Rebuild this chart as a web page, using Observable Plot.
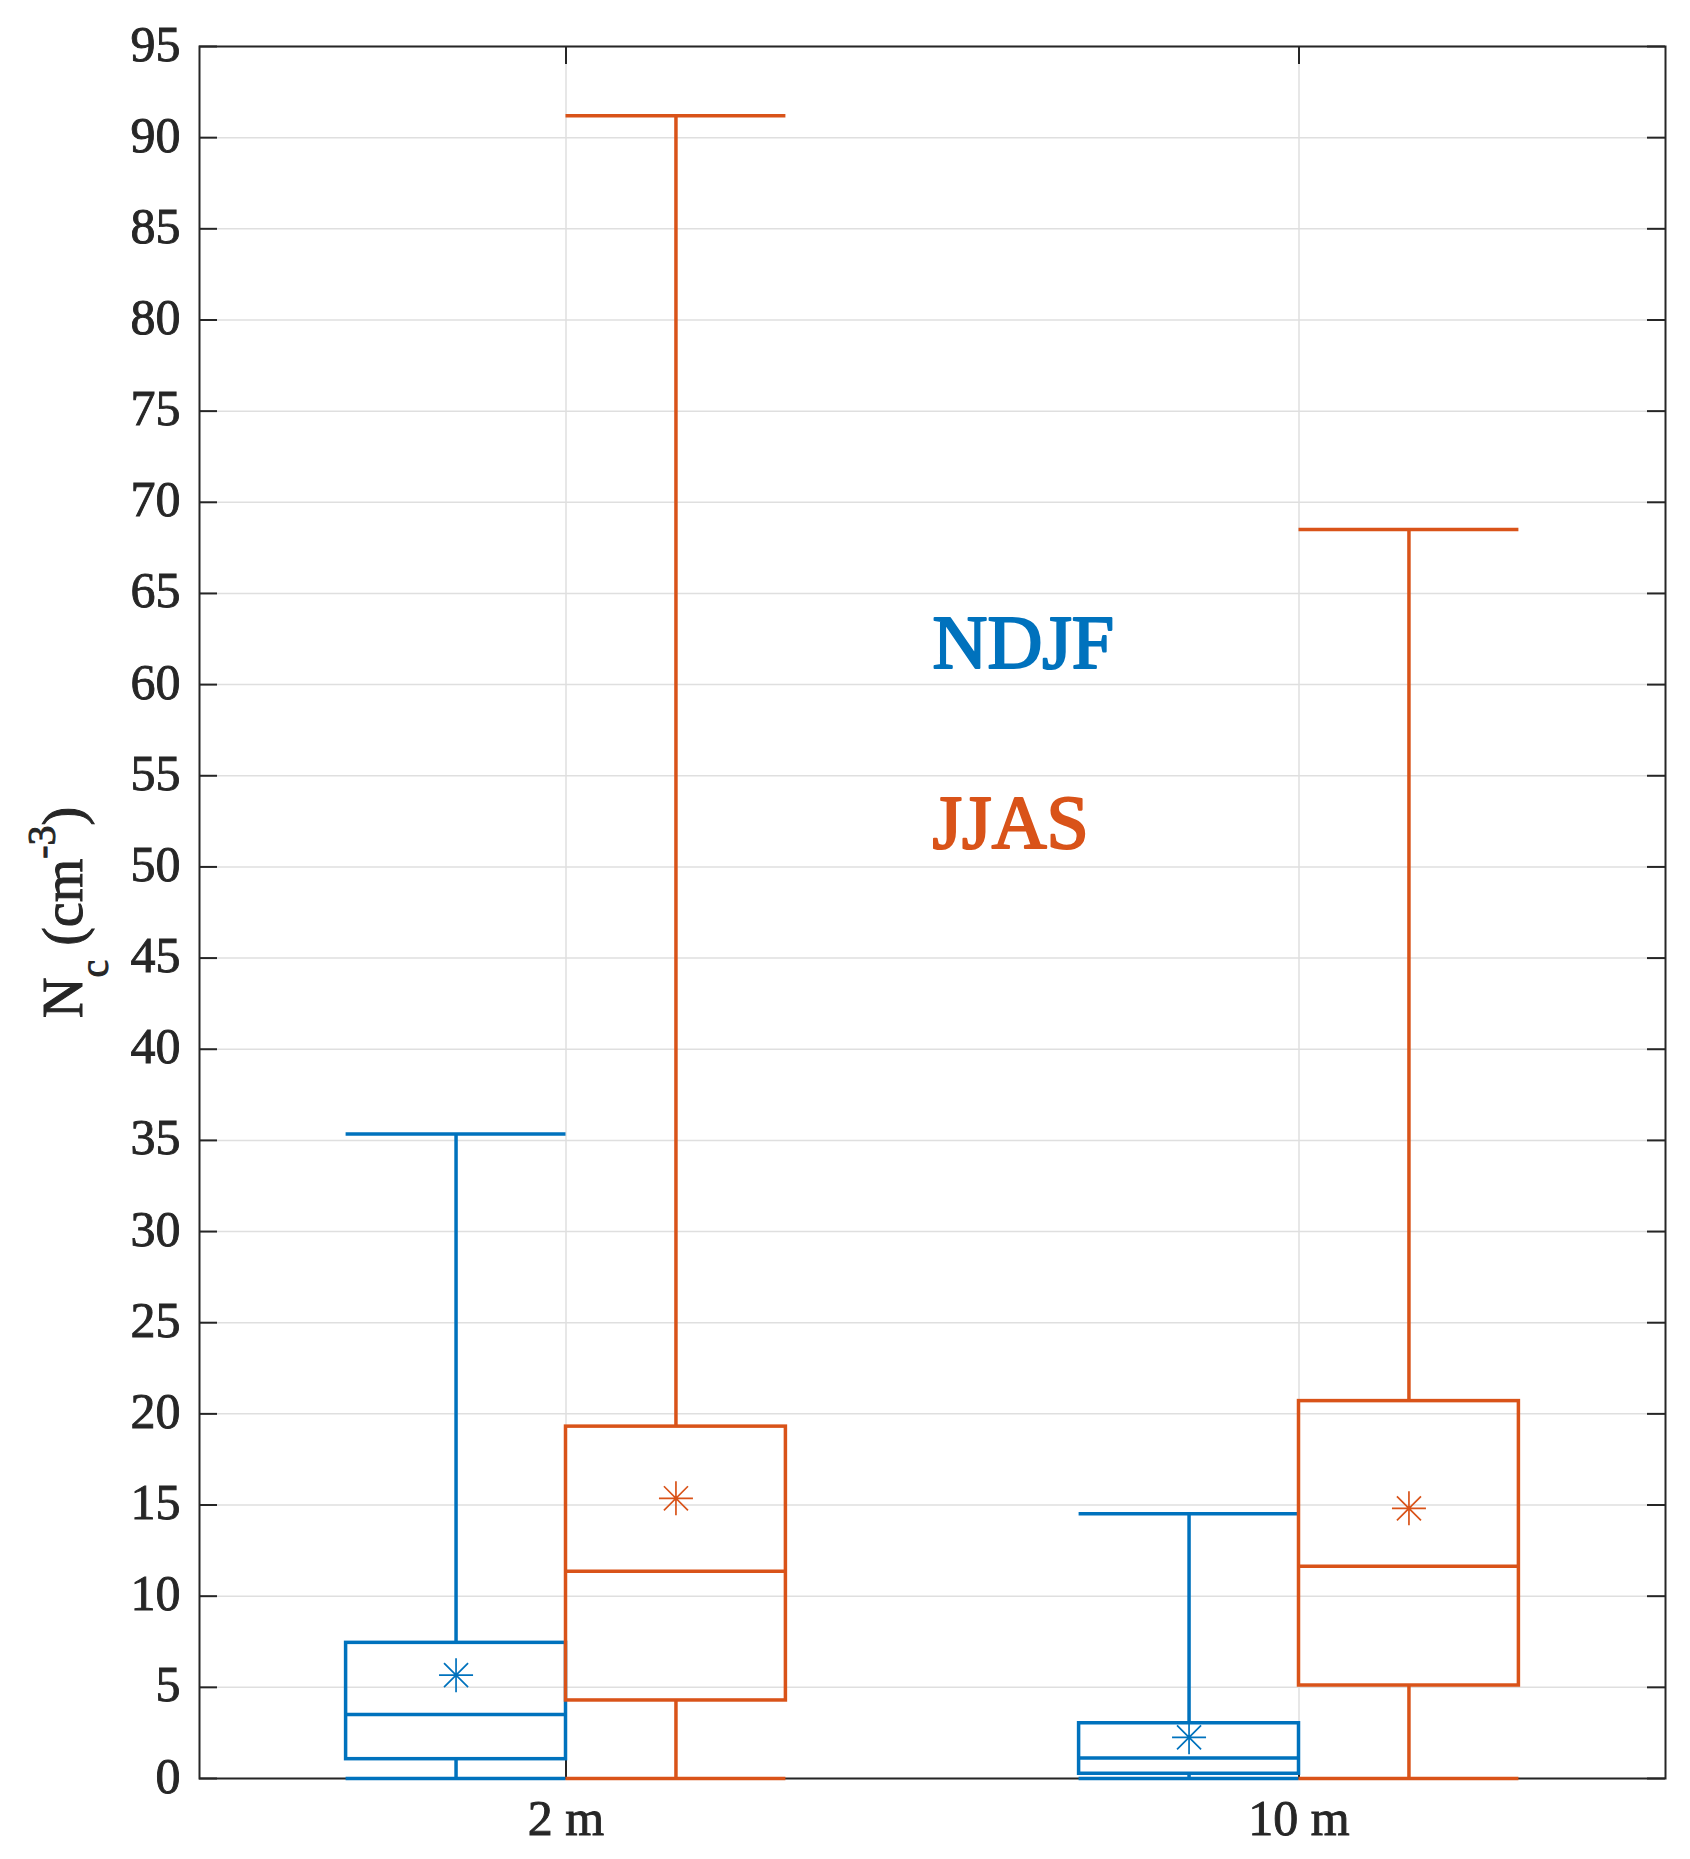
<!DOCTYPE html>
<html>
<head>
<meta charset="utf-8">
<script src="https://cdn.jsdelivr.net/npm/d3@7"></script>
<script src="https://cdn.jsdelivr.net/npm/@observablehq/plot@0.6"></script>
<style>
  html, body { margin: 0; padding: 0; background: #fff; }
  #chart svg { display: block; }
</style>
</head>
<body>
<div id="chart"></div>
<script>
// ---- data ----
const heights = ["2 m", "10 m"];
const positions = [1, 2];
const seasons = ["NDJF", "JJAS"];
const seasonColors = ["#0072BD", "#D95319"];

const ndjfLower  = [0, 0];
const ndjfQ1     = [1.06, 0.26];
const ndjfMedian = [3.51, 1.13];
const ndjfQ3     = [7.44, 3.03];
const ndjfUpper  = [35.35, 14.52];
const ndjfMean   = [5.67, 2.26];

const jjasLower  = [0, 0];
const jjasQ1     = [4.28, 5.1];
const jjasMedian = [11.37, 11.64];
const jjasQ3     = [19.30, 20.7];
const jjasUpper  = [91.2, 68.51];
const jjasMean   = [15.37, 14.82];

const yTicks = d3.range(0, 96, 5);
const legendY = [60.93, 51.06];
const legendX = 1.5;

// ---- build table ----
const boxW = 0.3;
const rows = [];
positions.forEach((p, i) => {
  rows.push({season: seasons[0], color: seasonColors[0], x1: p - boxW, x2: p, xc: p - boxW / 2,
    lower: ndjfLower[i], q1: ndjfQ1[i], median: ndjfMedian[i], q3: ndjfQ3[i], upper: ndjfUpper[i], mean: ndjfMean[i]});
  rows.push({season: seasons[1], color: seasonColors[1], x1: p, x2: p + boxW, xc: p + boxW / 2,
    lower: jjasLower[i], q1: jjasQ1[i], median: jjasMedian[i], q3: jjasQ3[i], upper: jjasUpper[i], mean: jjasMean[i]});
});

const W = 1690, H = 1859;
const mL = 199, mR = 25, mT = 46, mB = 81;
const innerW = W - mL - mR, innerH = H - mT - mB;
const tickLen = 18;
const axisColor = "#262626";
const gridColor = "#dfdfdf";
const lw = 3.5;
const serif = "'Liberation Serif', 'Times New Roman', serif";

const asterisk8 = {
  draw(ctx, size) {
    const r = Math.sqrt(size / Math.PI);
    const d = r * Math.SQRT1_2;
    ctx.moveTo(-r, 0); ctx.lineTo(r, 0);
    ctx.moveTo(0, -r); ctx.lineTo(0, r);
    ctx.moveTo(-d, -d); ctx.lineTo(d, d);
    ctx.moveTo(-d, d); ctx.lineTo(d, -d);
  }
};

const chart = Plot.plot({
  width: W,
  height: H,
  marginLeft: mL,
  marginRight: mR,
  marginTop: mT,
  marginBottom: mB,
  style: {fontFamily: serif, fontSize: "50px", color: axisColor, background: "#fff"},
  x: {domain: [0.5, 2.5]},
  y: {domain: [0, 95]},
  marks: [
    // grid
    Plot.ruleY(yTicks, {y: d => d, stroke: gridColor, strokeWidth: 1.5}),
    Plot.ruleX(positions, {x: d => d, stroke: gridColor, strokeWidth: 1.5}),
    // frame
    Plot.frame({stroke: axisColor, strokeWidth: 2}),
    // inward ticks
    Plot.ruleY(yTicks, {y: d => d, stroke: axisColor, strokeWidth: 2, insetRight: innerW - tickLen}),
    Plot.ruleY(yTicks, {y: d => d, stroke: axisColor, strokeWidth: 2, insetLeft: innerW - tickLen}),
    Plot.ruleX(positions, {x: d => d, stroke: axisColor, strokeWidth: 2, insetBottom: innerH - tickLen}),
    Plot.ruleX(positions, {x: d => d, stroke: axisColor, strokeWidth: 2, insetTop: innerH - tickLen}),
    // tick labels
    Plot.axisY(yTicks, {anchor: "left", tickSize: 0, tickPadding: 19, fontSize: 50, fill: axisColor, label: null, dy: -2}),
    Plot.axisX(positions, {anchor: "bottom", tickSize: 0, tickPadding: 21, fontSize: 50, fill: axisColor, label: null,
      tickFormat: d => heights[positions.indexOf(d)]}),
    // whiskers
    Plot.ruleX(rows, {x: "xc", y1: "q3", y2: "upper", stroke: "color", strokeWidth: lw}),
    Plot.ruleX(rows, {x: "xc", y1: "lower", y2: "q1", stroke: "color", strokeWidth: lw}),
    Plot.ruleY(rows, {y: "upper", x1: "x1", x2: "x2", stroke: "color", strokeWidth: lw}),
    Plot.ruleY(rows, {y: "lower", x1: "x1", x2: "x2", stroke: "color", strokeWidth: lw}),
    // boxes
    Plot.rect(rows, {x1: "x1", x2: "x2", y1: "q1", y2: "q3", fill: "none", stroke: "color", strokeWidth: lw}),
    Plot.ruleY(rows, {y: "median", x1: "x1", x2: "x2", stroke: "color", strokeWidth: lw}),
    // means
    Plot.dot(rows, {x: "xc", y: "mean", r: 17, symbol: asterisk8, fill: "none", stroke: "color", strokeWidth: 1.7}),
    // season labels
    Plot.text(seasons, {x: () => legendX, y: (d, i) => legendY[i], text: d => d,
      fill: (d, i) => seasonColors[i], stroke: (d, i) => seasonColors[i], strokeWidth: 2.2,
      textAnchor: "start", lineAnchor: "bottom", fontSize: 76})
  ]
});

document.getElementById("chart").appendChild(chart);

const svg = d3.select(chart);
// slightly heavier tick labels, like the reference rendering
svg.selectAll("g[aria-label='y-axis tick label'], g[aria-label='x-axis tick label']")
  .attr("stroke", axisColor).attr("stroke-width", 0.9);

// y axis label: N_c (cm^-3)
const lab = svg.append("text")
  .attr("transform", "translate(82,1018) rotate(-90)")
  .attr("text-anchor", "start")
  .attr("fill", axisColor)
  .attr("stroke", axisColor)
  .attr("stroke-width", 1)
  .style("font-family", serif)
  .style("font-size", "56px");
lab.append("tspan").text("N");
lab.append("tspan").attr("dy", 26).style("font-size", "40px").text("c");
lab.append("tspan").attr("dy", -26).text(" (cm");
lab.append("tspan").attr("dy", -27).style("font-size", "40px").text("-3");
lab.append("tspan").attr("dy", 27).text(")");
</script>
</body>
</html>
